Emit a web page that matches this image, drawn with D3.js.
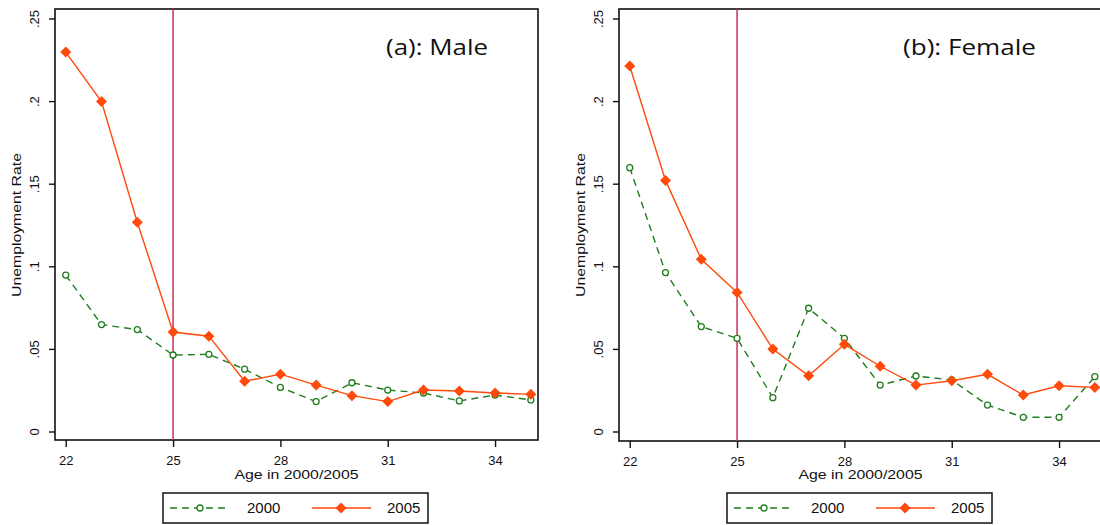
<!DOCTYPE html>
<html><head><meta charset="utf-8">
<script src="https://cdn.jsdelivr.net/npm/d3@7"></script>
<style>
html,body{margin:0;padding:0;background:#fff;}
svg{display:block;font-family:"Liberation Sans",Arial,sans-serif;}
</style></head>
<body><svg id="c" width="1100" height="525"></svg>
<script>
const ages = [22,23,24,25,26,27,28,29,30,31,32,33,34,35];
const male2000 = [0.095,0.065,0.062,0.0466,0.047,0.038,0.027,0.0184,0.0298,0.0254,0.0236,0.0188,0.0224,0.0194];
const male2005 = [0.230,0.200,0.127,0.0605,0.058,0.0307,0.035,0.0284,0.022,0.0184,0.0254,0.0248,0.0236,0.0228];
const female2000 = [0.160,0.0965,0.0638,0.0567,0.0208,0.0749,0.0567,0.0284,0.0339,0.0315,0.0163,0.0089,0.0089,0.0335];
const female2005 = [0.2215,0.1523,0.1045,0.0845,0.0502,0.034,0.0531,0.0398,0.0284,0.031,0.0349,0.0224,0.028,0.027];
const xTicks = [22,25,28,31,34];
const yTicks = [0,0.05,0.1,0.15,0.2,0.25];
const yTickLabels = ["0",".05",".1",".15",".2",".25"];
const seriesNames = ["2000","2005"];
const cutoffAge = 25;
const titles = ["(a): Male","(b): Female"];

const C2000 = "#1f7d1f", C2005 = "#ff4a0c", CVL = "#cc2e5a";
const svg = d3.select("#c");

function diamond(r){ return `M0,${-r}L${r},0L0,${r}L${-r},0Z`; }

function panel(off, title, titleX, d2000, d2005, bottom){
  const left = 55+off, right = 538+off, top = 9;
  const x = d3.scaleLinear().domain([21.7,35.2]).range([left,right]);
  const y = d3.scaleLinear().domain([0,0.25]).range([432,19]);
  const g = svg.append("g");
  const cid = "clip"+off;
  g.append("clipPath").attr("id",cid).append("rect").attr("x",left).attr("y",top).attr("width",right-left).attr("height",bottom-top);
  g.append("rect").attr("x",left).attr("y",top).attr("width",right-left).attr("height",bottom-top)
    .attr("fill","none").attr("stroke","#111").attr("stroke-width",1.6);
  // y axis
  const ya = d3.axisLeft(y).tickValues(yTicks).tickSize(6).tickFormat((d,i)=>yTickLabels[i]);
  const yg = g.append("g").attr("transform",`translate(${left},0)`).call(ya);
  yg.select(".domain").remove();
  yg.selectAll(".tick").attr("transform","translate(0,0)");
  yg.selectAll(".tick line").attr("stroke","#111").attr("stroke-width",1.4)
    .attr("y1",d=>y(d)).attr("y2",d=>y(d)).attr("x2",-6);
  yg.selectAll(".tick text").attr("font-size",13).attr("fill","#111")
    .attr("transform",d=>`translate(-21,${y(d)}) rotate(-90)`)
    .attr("x",0).attr("y",0).attr("dy","0.35em").attr("text-anchor","middle");
  // x axis
  const xa = d3.axisBottom(x).tickValues(xTicks).tickSize(7).tickFormat(d3.format("d"));
  const xg = g.append("g").attr("transform",`translate(0,${bottom})`).call(xa);
  xg.select(".domain").remove();
  xg.selectAll(".tick line").attr("stroke","#111").attr("stroke-width",1.4);
  xg.selectAll(".tick text").attr("font-size",13).attr("fill","#111").attr("y",16).attr("dy","0.71em");
  // axis titles
  g.append("text").attr("x",(left+right)/2).attr("y",479).attr("text-anchor","middle")
    .attr("font-size",13).attr("fill","#111").attr("textLength",124).attr("lengthAdjust","spacingAndGlyphs")
    .text("Age in 2000/2005");
  g.append("text").attr("transform",`translate(${left-34},225) rotate(-90)`).attr("text-anchor","middle")
    .attr("font-size",12).attr("fill","#111").attr("textLength",144).attr("lengthAdjust","spacingAndGlyphs")
    .text("Unemployment Rate");
  // plot content
  const pc = g.append("g").attr("clip-path",`url(#${cid})`);
  pc.append("line").attr("x1",x(cutoffAge)).attr("x2",x(cutoffAge)).attr("y1",top).attr("y2",bottom)
    .attr("stroke",CVL).attr("stroke-width",1.5);
  const line = d3.line().x((d,i)=>x(ages[i])).y(d=>y(d));
  pc.append("path").attr("d",line(d2000)).attr("fill","none").attr("stroke",C2000).attr("stroke-width",1.4).attr("stroke-dasharray","7,5");
  pc.selectAll(".m0").data(d2000).enter().append("circle").attr("cx",(d,i)=>x(ages[i])).attr("cy",d=>y(d)).attr("r",3)
    .attr("fill","#fff").attr("stroke",C2000).attr("stroke-width",1.3);
  pc.append("path").attr("d",line(d2005)).attr("fill","none").attr("stroke",C2005).attr("stroke-width",1.4);
  pc.selectAll(".m5").data(d2005).enter().append("path").attr("d",diamond(5.5))
    .attr("transform",(d,i)=>`translate(${x(ages[i])},${y(d)})`).attr("fill",C2005);
  // title
  g.append("text").attr("x",titleX).attr("y",55).attr("font-family","'Open Sans',sans-serif").attr("font-size",21)
    .attr("fill","#111").attr("textLength",title.length>10?133:102).attr("lengthAdjust","spacingAndGlyphs").text(title);
  // legend
  const lx = 163+off, ly = 493;
  const lg = g.append("g");
  lg.append("rect").attr("x",lx).attr("y",ly).attr("width",265).attr("height",30).attr("fill","#fff")
    .attr("stroke","#111").attr("stroke-width",1.5);
  const cy = ly+15;
  lg.append("line").attr("x1",lx+7).attr("x2",lx+67).attr("y1",cy).attr("y2",cy).attr("stroke",C2000).attr("stroke-width",1.5).attr("stroke-dasharray","7,5");
  lg.append("circle").attr("cx",lx+37).attr("cy",cy).attr("r",3).attr("fill","#fff").attr("stroke",C2000).attr("stroke-width",1.3);
  lg.append("text").attr("x",lx+84).attr("y",cy).attr("dy","0.35em").attr("font-size",15).attr("fill","#111").text(seriesNames[0]);
  lg.append("line").attr("x1",lx+149).attr("x2",lx+208).attr("y1",cy).attr("y2",cy).attr("stroke",C2005).attr("stroke-width",1.5);
  lg.append("path").attr("d",diamond(5.5)).attr("transform",`translate(${lx+178},${cy})`).attr("fill",C2005);
  lg.append("text").attr("x",lx+224).attr("y",cy).attr("dy","0.35em").attr("font-size",15).attr("fill","#111").text(seriesNames[1]);
}

panel(0, titles[0], 386, male2000, male2005, 440);
panel(564, titles[1], 903, female2000, female2005, 441);
</script></body></html>
